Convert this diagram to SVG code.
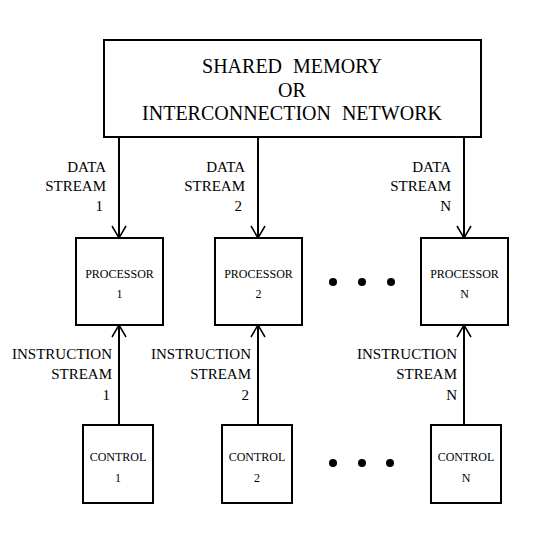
<svg xmlns="http://www.w3.org/2000/svg" width="550" height="550" viewBox="0 0 550 550">
<style>
.box{fill:#fff;stroke:#000;stroke-width:2}
.ln{stroke:#000;stroke-width:2;fill:none}
.ah{stroke:#000;stroke-width:1.5;fill:none}
.big{font-size:20px;text-anchor:middle;word-spacing:6px}
.lbl{font-size:15px;text-anchor:end}
.in{font-size:12px;text-anchor:middle}
.dot{fill:#000}
</style>
<rect width="550" height="550" fill="#fff"/>
<g id="connectors">
<line class="ln" x1="119" y1="137" x2="119" y2="238"/>
<polyline class="ah" points="112,226 119,238 126,226"/>
<line class="ln" x1="258" y1="137" x2="258" y2="238"/>
<polyline class="ah" points="251,226 258,238 265,226"/>
<line class="ln" x1="464" y1="137" x2="464" y2="238"/>
<polyline class="ah" points="457,226 464,238 471,226"/>
<line class="ln" x1="119" y1="425" x2="119" y2="325"/>
<polyline class="ah" points="112,337 119,325 126,337"/>
<line class="ln" x1="258" y1="425" x2="258" y2="325"/>
<polyline class="ah" points="251,337 258,325 265,337"/>
<line class="ln" x1="464" y1="425" x2="464" y2="325"/>
<polyline class="ah" points="457,337 464,325 471,337"/>
</g>
<g font-family="'Liberation Serif', 'Times New Roman', serif" fill="#000">
<g id="memory">
<rect class="box" x="104" y="40" width="377" height="97"/>
<text class="big" x="292" y="73">SHARED MEMORY</text>
<text class="big" x="292" y="97">OR</text>
<text class="big" x="292" y="120">INTERCONNECTION NETWORK</text>
</g>
<g id="ds-labels">
<text class="lbl" x="106" y="172">DATA</text>
<text class="lbl" x="106" y="191">STREAM</text>
<text class="lbl" x="103" y="211">1</text>
<text class="lbl" x="245" y="172">DATA</text>
<text class="lbl" x="245" y="191">STREAM</text>
<text class="lbl" x="242" y="211">2</text>
<text class="lbl" x="451" y="172">DATA</text>
<text class="lbl" x="451" y="191">STREAM</text>
<text class="lbl" x="451" y="211">N</text>
</g>
<g id="processor1">
<rect class="box" x="76" y="238" width="87" height="87"/>
<text class="in" x="119.5" y="278">PROCESSOR</text>
<text class="in" x="119.5" y="298">1</text>
</g>
<g id="processor2">
<rect class="box" x="215" y="238" width="87" height="87"/>
<text class="in" x="258.5" y="278">PROCESSOR</text>
<text class="in" x="258.5" y="298">2</text>
</g>
<g id="processorN">
<rect class="box" x="421" y="238" width="87" height="87"/>
<text class="in" x="464.5" y="278">PROCESSOR</text>
<text class="in" x="464.5" y="298">N</text>
</g>
<g id="dots-processors">
<circle class="dot" cx="333" cy="282" r="4"/>
<circle class="dot" cx="362" cy="282" r="4"/>
<circle class="dot" cx="391" cy="282" r="4"/>
</g>
<g id="is-labels">
<text class="lbl" x="112" y="359">INSTRUCTION</text>
<text class="lbl" x="112" y="379">STREAM</text>
<text class="lbl" x="110" y="400">1</text>
<text class="lbl" x="251" y="359">INSTRUCTION</text>
<text class="lbl" x="251" y="379">STREAM</text>
<text class="lbl" x="249" y="400">2</text>
<text class="lbl" x="457" y="359">INSTRUCTION</text>
<text class="lbl" x="457" y="379">STREAM</text>
<text class="lbl" x="457" y="400">N</text>
</g>
<g id="control1">
<rect class="box" x="83" y="425" width="70" height="78"/>
<text class="in" x="118" y="461">CONTROL</text>
<text class="in" x="118" y="482">1</text>
</g>
<g id="control2">
<rect class="box" x="222" y="425" width="70" height="78"/>
<text class="in" x="257" y="461">CONTROL</text>
<text class="in" x="257" y="482">2</text>
</g>
<g id="controlN">
<rect class="box" x="431" y="425" width="70" height="78"/>
<text class="in" x="466" y="461">CONTROL</text>
<text class="in" x="466" y="482">N</text>
</g>
<g id="dots-controls">
<circle class="dot" cx="333" cy="463" r="4"/>
<circle class="dot" cx="362" cy="463" r="4"/>
<circle class="dot" cx="390" cy="463" r="4"/>
</g>
</g>
</svg>
